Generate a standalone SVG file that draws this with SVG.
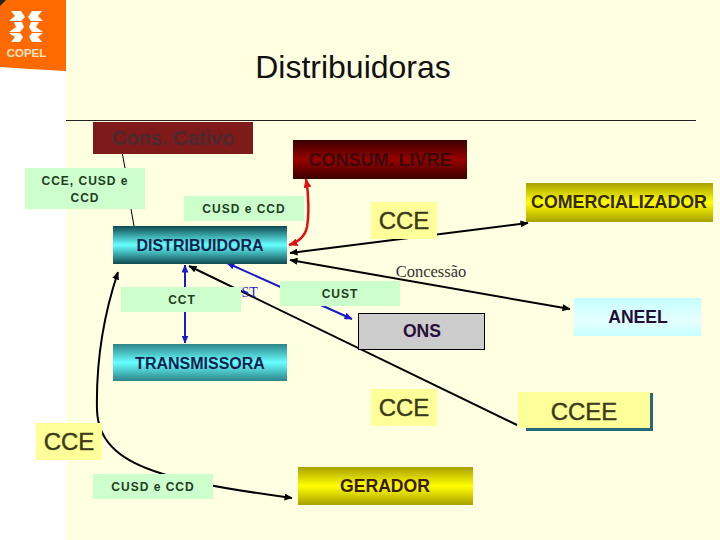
<svg xmlns="http://www.w3.org/2000/svg" width="720" height="540" viewBox="0 0 720 540">
<style>
text{font-family:"Liberation Sans",Arial,sans-serif;text-anchor:middle}
text.serif{font-family:"Liberation Serif","Times New Roman",serif}
.node{font-weight:bold;font-size:16px}
.n18{font-weight:bold;font-size:17.6px}
.lab{font-weight:bold;font-size:12px;fill:#1f3d1f;letter-spacing:1px}
.big{font-size:24px;fill:#3a3a1a;stroke:#3a3a1a;stroke-width:.4px}
.g{fill:#ccffcc}
.y{fill:#ffff99}
.k{fill:none;stroke:#000;stroke-width:2}
.b{fill:none;stroke:#1a1ac8;stroke-width:2}
</style>
<defs>
<linearGradient id="teal" x1="0" y1="0" x2="0" y2="1"><stop offset="0" stop-color="#0f4a4f"/><stop offset=".5" stop-color="#66ffff"/><stop offset="1" stop-color="#0f4a4f"/></linearGradient>
<linearGradient id="teal2" x1="0" y1="0" x2="0" y2="1"><stop offset="0" stop-color="#2d8488"/><stop offset=".5" stop-color="#66ffff"/><stop offset="1" stop-color="#2d8488"/></linearGradient>
<linearGradient id="red" x1="0" y1="0" x2="0" y2="1"><stop offset="0" stop-color="#3a0000"/><stop offset=".5" stop-color="#990000"/><stop offset="1" stop-color="#3a0000"/></linearGradient>
<linearGradient id="ol" x1="0" y1="0" x2="0" y2="1"><stop offset="0" stop-color="#a8a000"/><stop offset=".5" stop-color="#ffff00"/><stop offset="1" stop-color="#a8a000"/></linearGradient>
<linearGradient id="cy" x1="0" y1="0" x2="0" y2="1"><stop offset="0" stop-color="#c4ffff"/><stop offset=".6" stop-color="#e6ffff"/><stop offset="1" stop-color="#c4ffff"/></linearGradient>
<marker id="mk" markerUnits="userSpaceOnUse" markerWidth="8" markerHeight="7" refX="7.500" refY="3.500" orient="auto-start-reverse"><path d="M0 0L8 3.500L0 7z" fill="#000"/></marker>
<marker id="mb" markerUnits="userSpaceOnUse" markerWidth="8" markerHeight="7" refX="7.500" refY="3.500" orient="auto-start-reverse"><path d="M0 0L8 3.500L0 7z" fill="#1a1ac8"/></marker>
<marker id="mr" markerUnits="userSpaceOnUse" markerWidth="9" markerHeight="8" refX="8.500" refY="4" orient="auto-start-reverse"><path d="M0 0L9 4L0 8z" fill="#e01010"/></marker>
</defs>
<rect width="720" height="540" fill="#fff"/>
<rect x="66" width="654" height="540" fill="#ffffe1"/>
<g id="logo">
<path d="M0 0H66V71L30 69L0 67Z" fill="#ff6a00"/>
<path d="M0 0H6L0 6Z" fill="#222"/>
<g fill="#fff">
<path d="M11 11H21L25 17L21 21H9L15 16Z"/>
<path d="M32 11H42L38 16L43 21H31L28 17Z"/>
<path d="M14 22H22L24 27L20 32H9L16 27Z"/>
<path d="M31 22H39L36 27L43 32H32L29 27Z"/>
<path d="M9 33H20L23 37L20 42H11L15 37Z"/>
<path d="M32 33H43L38 37L42 42H32L29 37Z"/>
</g>
<text x="26.500" y="57" font-size="11.500" font-weight="bold" fill="#ffe3c8">COPEL</text>
</g>
<text x="353" y="78" font-size="32" fill="#111">Distribuidoras</text>
<line x1="66" y1="120.500" x2="696" y2="120.500" stroke="#222" stroke-width="1"/>
<g id="connectors">
<line x1="122" y1="152" x2="125" y2="168" stroke="#000"/>
<line x1="131" y1="209" x2="134" y2="226" stroke="#000"/>
<path class="k" d="M290 253L528 223" marker-start="url(#mk)" marker-end="url(#mk)"/>
<path class="k" d="M290 260L570 309" marker-start="url(#mk)" marker-end="url(#mk)"/>
<path class="k" d="M189 266L517 425" marker-start="url(#mk)"/>
<path class="k" d="M118 272C102 320 96 365 97 410C98 445 125 462 160 473C185 482 240 491 292 498" marker-start="url(#mk)" marker-end="url(#mk)"/>
<path d="M306 179C309 195 309 215 307 227C305 237 298 242 289 245" fill="none" stroke="#e01010" stroke-width="2.500" marker-start="url(#mr)" marker-end="url(#mr)"/>
<path class="b" d="M185 265V343" marker-start="url(#mb)" marker-end="url(#mb)"/>
<path class="b" d="M227 263L352 319" marker-start="url(#mb)" marker-end="url(#mb)"/>
</g>
<text x="240" y="297" class="serif" font-size="14" fill="#1a1ac8">CUST</text>
<g id="cativo"><rect x="93" y="122" width="160" height="32" fill="#7f1a1a"/><text x="173" y="145" font-size="20" font-weight="bold" fill="#4a2a2e">Cons. Cativo</text></g>
<g id="l1"><rect x="25" y="168" width="120" height="41" class="g"/><text x="85" y="185" class="lab">CCE, CUSD e</text><text x="85" y="202" class="lab">CCD</text></g>
<g id="l2"><rect x="184" y="196" width="120" height="25" class="g"/><text x="244" y="213" class="lab">CUSD e CCD</text></g>
<g id="distribuidora"><rect x="113" y="226" width="174" height="38" fill="url(#teal)"/><text x="200" y="251" class="node" fill="#0f1f50">DISTRIBUIDORA</text></g>
<g id="livre"><rect x="293" y="140" width="174" height="39" fill="url(#red)"/><text x="380" y="166" class="node" style="font-size:18px" fill="#3a0a0a">CONSUM. LIVRE</text></g>
<g id="cce1"><rect x="371" y="202" width="66" height="37" class="y"/><text x="404" y="229" class="big">CCE</text></g>
<g id="comercializador"><rect x="526" y="183" width="187" height="39" fill="url(#ol)"/><text x="619" y="208" class="node" style="font-size:17.800px" fill="#33280a">COMERCIALIZADOR</text></g>
<text x="431" y="277" class="serif" font-size="16.500" fill="#333">Concessão</text>
<g id="cust"><rect x="280" y="281" width="120" height="25" class="g"/><text x="340" y="298" class="lab">CUST</text></g>
<g id="cct"><rect x="121" y="287" width="120" height="25" class="g"/><text x="182" y="304" class="lab">CCT</text></g>
<g id="ons"><rect x="358.500" y="313.500" width="126" height="36" fill="#cccccc" stroke="#000"/><text x="422" y="337" class="n18" fill="#2a0f3a">ONS</text></g>
<g id="aneel"><rect x="574" y="298" width="127" height="38" fill="url(#cy)"/><text x="638" y="323" class="n18" fill="#1f0f3a">ANEEL</text></g>
<g id="transmissora"><rect x="113" y="344" width="174" height="37" fill="url(#teal2)"/><text x="200" y="369" class="node" fill="#0f1f50">TRANSMISSORA</text></g>
<g id="cce2"><rect x="371" y="389" width="66" height="37" class="y"/><text x="404" y="416" class="big">CCE</text></g>
<g id="ccee"><rect x="526" y="393" width="127" height="38" fill="#2a6a78"/><rect x="518" y="392" width="132" height="36" class="y"/><text x="584" y="420" class="big">CCEE</text></g>
<g id="cce3"><rect x="36" y="423" width="66" height="37" class="y"/><text x="69" y="450" class="big">CCE</text></g>
<g id="l3"><rect x="93" y="474" width="120" height="25" class="g"/><text x="153" y="491" class="lab">CUSD e CCD</text></g>
<g id="gerador"><rect x="298" y="467" width="175" height="38" fill="url(#ol)"/><text x="385" y="492" class="n18" fill="#3a1a0a">GERADOR</text></g>
</svg>
